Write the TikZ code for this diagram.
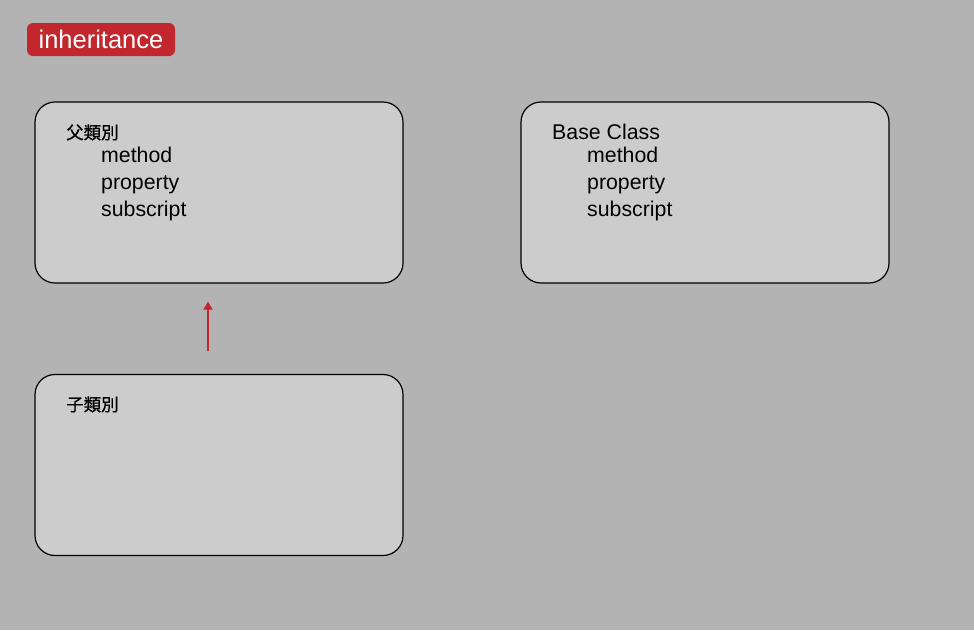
\documentclass[tikz,border=0pt]{standalone}
\usepackage{fontspec}
\setmainfont{Liberation Sans}
\newfontfamily\cjk[FakeBold=0.8]{Noto Sans CJK TC}
\usetikzlibrary{arrows.meta}
\definecolor{bgGray}{HTML}{B3B3B3}
\definecolor{boxGray}{HTML}{CCCCCC}
\definecolor{inhRed}{HTML}{C1272D}
\begin{document}
\begin{tikzpicture}[x=1pt,y=-1pt,
    classBox/.style={draw=black,line width=1.2pt,fill=boxGray,rounded corners=20pt,minimum width=368pt,minimum height=181pt,inner sep=0pt},
    label/.style={anchor=base west,inner sep=0pt,font=\fontsize{21.3}{24}\selectfont},
    cjkLabel/.style={anchor=base west,inner sep=0pt,font=\cjk\fontsize{17.5}{20}\selectfont}]
        \pgfmathsetmacro{\indentA}{66}
        \pgfmathsetmacro{\indentB}{101}
        \useasboundingbox (0,0) rectangle (974,630);
        \fill[bgGray] (0,0) rectangle (974,630);
        % title badge
        \node[fill=inhRed,rounded corners=6pt,minimum width=148pt,minimum height=33pt,inner sep=0pt,text=white,font=\fontsize{25.5}{28}\selectfont] (badge) at (101,39.5) {inheritance};
        % classes
        \node[classBox] (parent) at (219,192.5) {};
        \node[classBox] (base) at (705,192.5) {};
        \node[classBox] (child) at (219,465) {};
        \node[cjkLabel] (parentName) at (\indentA,139) {父類別};
        \node[label] (parentMethod) at (\indentB,162) {method};
        \node[label] (parentProperty) at (\indentB,189) {property};
        \node[label] (parentSubscript) at (\indentB,216) {subscript};
        \node[label] (baseName) at (552,139) {Base Class};
        \node[label] (baseMethod) at (587,162) {method};
        \node[label] (baseProperty) at (587,189) {property};
        \node[label] (baseSubscript) at (587,216) {subscript};
        \node[cjkLabel] (childName) at (\indentA,411) {子類別};
        % inheritance arrow
        \draw[inhRed,line width=2pt,-{Triangle[width=9pt,length=8pt]},shorten <=23pt,shorten >=18pt] (child.north -| 208,0) -- (parent.south -| 208,0);
      \end{tikzpicture}
\end{document}
